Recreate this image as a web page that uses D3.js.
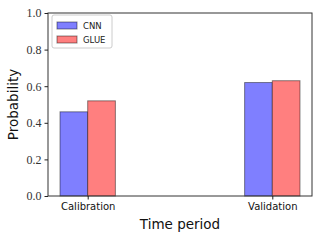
<!doctype html>
<html>
<head>
<script src="https://d3js.org/d3.v7.min.js"></script>
<style>
    body { margin: 0; background: #fff; }
</style>
</head>
<body>
<script>
    // chart data
    const periods = ["Calibration", "Validation"];
    const cnn = [0.46, 0.62];
    const glue = [0.52, 0.63];
    const seriesNames = ["CNN", "GLUE"];
    const yTicks = [0.0, 0.2, 0.4, 0.6, 0.8, 1.0];

    const W = 320, H = 240;
    const mLeft = 48, mRight = 312, mTop = 13, mBottom = 196;
    const barW = 0.15;

    const svg = d3.select("body").append("svg")
        .attr("width", W).attr("height", H);

    // x domain like matplotlib: bars span [-w, 1+w], plus 5% margins
    const span = 1 + 2 * barW;
    const x = d3.scaleLinear()
        .domain([-barW - span * 0.05, 1 + barW + span * 0.05])
        .range([mLeft, mRight]);
    const y = d3.scaleLinear().domain([0, 1]).range([mBottom, mTop]);

    const colors = ["rgb(127,127,255)", "rgb(255,127,127)"];
    const series = [cnn, glue];

    series.forEach((vals, s) => {
        svg.append("g").selectAll("rect")
            .data(vals)
            .join("rect")
            .attr("x", (d, i) => x(i + (s - 1) * barW))
            .attr("width", x(barW) - x(0))
            .attr("y", d => y(d))
            .attr("height", d => y(0) - y(d))
            .attr("fill", colors[s])
            .attr("stroke", "rgba(0,0,0,0.45)")
            .attr("stroke-width", 1);
    });

    // frame
    svg.append("rect")
        .attr("x", mLeft).attr("y", mTop)
        .attr("width", mRight - mLeft).attr("height", mBottom - mTop)
        .attr("fill", "none").attr("stroke", "#333").attr("stroke-width", 1);

    // y axis
    const yAxis = svg.append("g")
        .attr("transform", `translate(${mLeft},0)`)
        .call(d3.axisLeft(y).tickValues(yTicks).tickFormat(d3.format(".1f")).tickSizeOuter(0).tickSize(3.5).tickPadding(3));
    yAxis.select(".domain").remove();
    yAxis.selectAll(".tick line").attr("stroke", "#222");
    yAxis.selectAll(".tick text")
        .attr("font-family", "Liberation Serif, serif")
        .attr("font-size", 12).attr("fill", "#333");

    // x axis
    const xAxis = svg.append("g")
        .attr("transform", `translate(0,${mBottom})`)
        .call(d3.axisBottom(x).tickValues([0, 1]).tickFormat(i => periods[i]).tickSizeOuter(0).tickSize(3.5).tickPadding(3));
    xAxis.select(".domain").remove();
    xAxis.selectAll(".tick line").attr("stroke", "#222");
    xAxis.selectAll(".tick text")
        .attr("font-family", "DejaVu Sans, sans-serif")
        .attr("font-size", 10).attr("fill", "#111");

    // axis titles
    svg.append("text")
        .attr("x", (mLeft + mRight) / 2).attr("y", 229)
        .attr("text-anchor", "middle")
        .attr("font-family", "DejaVu Sans, sans-serif")
        .attr("font-size", 13.5).attr("fill", "#111")
        .text("Time period");
    svg.append("text")
        .attr("transform", `translate(18,${(mTop + mBottom) / 2}) rotate(-90)`)
        .attr("text-anchor", "middle")
        .attr("font-family", "DejaVu Sans, sans-serif")
        .attr("font-size", 13.5).attr("fill", "#111")
        .text("Probability");

    // legend
    const lg = svg.append("g").attr("transform", `translate(52,15)`);
    lg.append("rect")
        .attr("width", 60).attr("height", 33).attr("rx", 2)
        .attr("fill", "rgba(255,255,255,0.8)").attr("stroke", "#ccc");
    seriesNames.forEach((name, i) => {
        lg.append("rect")
            .attr("x", 5).attr("y", 7 + i * 14)
            .attr("width", 20).attr("height", 7)
            .attr("fill", colors[i]).attr("stroke", "rgba(0,0,0,0.45)");
        lg.append("text")
            .attr("x", 31).attr("y", 14 + i * 14)
            .attr("font-family", "DejaVu Sans, sans-serif")
            .attr("font-size", 8.5).attr("fill", "#222")
            .text(name);
    });
</script>
</body>
</html>
